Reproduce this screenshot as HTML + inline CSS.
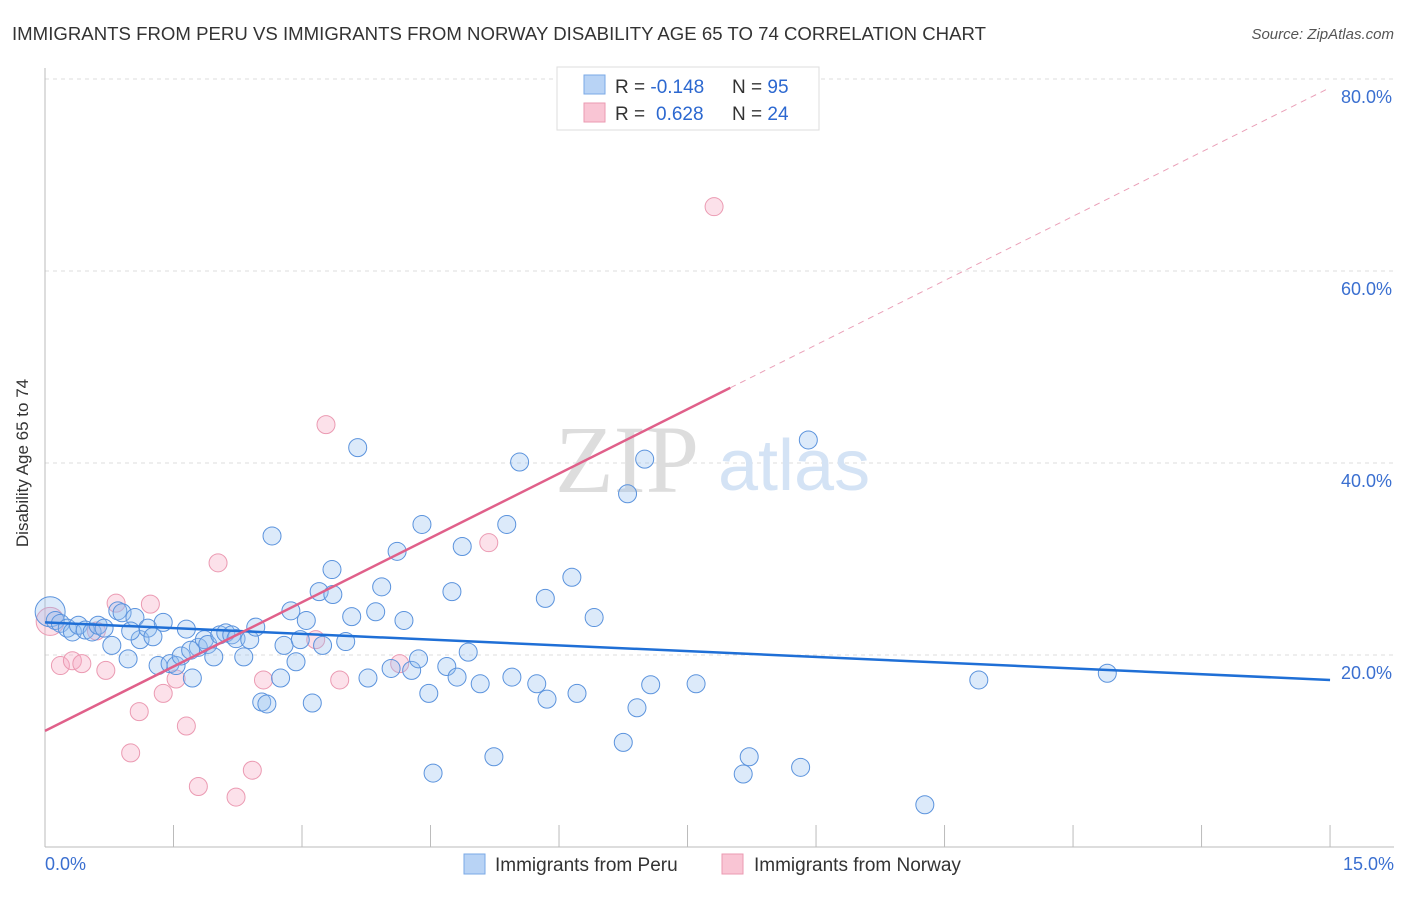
<!DOCTYPE html>
<html><head><meta charset="utf-8"><style>
body{margin:0;background:#fff;font-family:"Liberation Sans",sans-serif}
</style></head><body>
<svg width="1406" height="892" xmlns="http://www.w3.org/2000/svg" font-family="Liberation Sans, sans-serif">
<text x="12" y="40" font-size="18.6" fill="#333" textLength="974">IMMIGRANTS FROM PERU VS IMMIGRANTS FROM NORWAY DISABILITY AGE 65 TO 74 CORRELATION CHART</text>
<text x="1394" y="39" font-size="15" fill="#555" text-anchor="end" font-style="italic">Source: ZipAtlas.com</text>
<g id="grid"></g>
<text x="555" y="492" font-size="96" fill="#ddd" font-family="Liberation Serif, serif">ZIP</text>
<text x="718" y="490" font-size="72" fill="#d4e3f5">atlas</text>
<line x1="45" y1="68" x2="45" y2="847" stroke="#bbb"/>
<line x1="45" y1="847" x2="1394" y2="847" stroke="#bbb"/>
<g id="ticks"></g>
<text x="20" y="455" font-size="17" fill="#333" text-anchor="middle" transform="rotate(-90 28 455)">Disability Age 65 to 74</text>
<text x="45" y="870" font-size="18" fill="#3a6fd0">0.0%</text>
<text x="1394" y="870" font-size="18" fill="#3a6fd0" text-anchor="end">15.0%</text>
<g id="pts"></g>
<g id="lines"></g>
<g>
<rect x="557" y="67" width="262" height="63" fill="#fff" stroke="#ddd"/>
<rect x="584" y="75" width="21" height="19" fill="#b8d3f5" stroke="#7aa8e6"/>
<rect x="584" y="103" width="21" height="19" fill="#f9c5d4" stroke="#eb9ab2"/>
<text x="615" y="93" font-size="19" fill="#333">R = <tspan fill="#2c68d0">-0.148</tspan><tspan x="732">N = </tspan><tspan fill="#2c68d0">95</tspan></text>
<text x="615" y="120" font-size="19" fill="#333">R = <tspan x="656" fill="#2c68d0">0.628</tspan><tspan x="732">N = </tspan><tspan fill="#2c68d0">24</tspan></text>
</g>
<g>
<rect x="464" y="854" width="21" height="20" fill="#b8d3f5" stroke="#7aa8e6"/>
<text x="495" y="871" font-size="19" fill="#333">Immigrants from Peru</text>
<rect x="722" y="854" width="21" height="20" fill="#f9c5d4" stroke="#eb9ab2"/>
<text x="754" y="871" font-size="19" fill="#333">Immigrants from Norway</text>
</g>
</svg>
<script>
const yTicks=[20,40,60,80];
const xTicks=[0,1.5,3,4.5,6,7.5,9,10.5,12,13.5,15];
const peruX=[0.06,0.12,0.18,0.26,0.32,0.39,0.47,0.55,0.62,0.69,0.78,0.85,0.9,0.97,1.05,1.11,1.2,1.26,1.32,1.38,1.46,1.53,1.59,1.65,1.72,1.79,1.86,1.90,1.97,2.04,2.11,2.18,2.23,2.32,2.39,2.46,2.53,2.59,2.65,2.75,2.79,2.87,2.93,2.98,3.05,3.12,3.2,3.24,3.35,3.36,3.51,3.58,3.65,3.77,3.86,3.93,4.04,4.11,4.19,4.28,4.36,4.4,4.48,4.53,4.69,4.75,4.81,4.87,4.94,5.08,5.24,5.39,5.45,5.54,5.74,5.84,5.86,6.15,6.21,6.41,6.75,6.8,6.91,7.0,7.07,7.6,8.15,8.22,8.82,8.91,10.27,10.9,12.4,1.0,1.7];
const peruY=[24.5,23.6,23.3,22.8,22.4,23.1,22.6,22.4,23.1,22.8,21.0,24.6,24.4,19.6,23.9,21.6,22.8,21.9,18.9,23.4,19.1,18.9,19.9,22.7,17.6,20.8,21.6,21.1,19.8,22.1,22.3,22.1,21.7,19.8,21.6,22.9,15.1,14.9,32.4,17.6,21.0,24.6,19.3,21.6,23.6,15.0,26.6,21.0,28.9,26.3,21.4,24.0,41.6,17.6,24.5,27.1,18.6,30.8,23.6,18.4,19.6,33.6,16.0,7.7,18.8,26.6,17.7,31.3,20.3,17.0,9.4,33.6,17.7,40.1,17.0,25.9,15.4,28.1,16.0,23.9,10.9,36.8,14.5,40.4,16.9,17.0,7.6,9.4,8.3,42.4,4.4,17.4,18.1,22.5,20.5];
const norwayX=[0.06,0.18,0.32,0.43,0.71,0.83,1.1,1.0,1.23,1.38,1.53,1.65,1.79,2.02,2.23,2.42,2.55,3.16,3.28,3.44,4.14,5.18,7.81,0.6];
const norwayY=[23.5,18.9,19.4,19.1,18.4,25.4,14.1,9.8,25.3,16.0,17.5,12.6,6.3,29.6,5.2,8.0,17.4,21.6,44.0,17.4,19.1,31.7,66.7,22.5];
const peruLine=[23.4,17.4];
const norwayLine=[12.1,79.1];
const norwaySolidEnd=8.0;
const NS='http://www.w3.org/2000/svg';
const X=v=>45+v*85.67, Y=v=>847-v*9.6;
function mk(t,a,p){const e=document.createElementNS(NS,t);for(const k in a)e.setAttribute(k,a[k]);p.appendChild(e);return e;}
const grid=document.getElementById('grid');
yTicks.forEach(v=>{
 const l=mk('line',{x1:45,x2:1394,y1:Y(v),y2:Y(v),stroke:'#ddd','stroke-dasharray':'4,4'},grid);
 
 
 const t=mk('text',{x:1392,y:Y(v)+24,'font-size':18,fill:'#3a6fd0','text-anchor':'end'},grid);
 t.textContent=v.toFixed(1)+'%';
 
 
});
const tk=document.getElementById('ticks');
xTicks.forEach(v=>{
 const l=mk('line',{x1:X(v),x2:X(v),y1:825,y2:847,stroke:'#bbb'},tk);
 
 
});
const pts=document.getElementById('pts');
norwayX.forEach((x,i)=>{
 const c=mk('circle',{cx:X(x),cy:Y(norwayY[i]),r:i==0?14:9,fill:'rgba(245,170,195,0.35)',stroke:'#eb9ab2','stroke-width':1},pts);
 
 
});
peruX.forEach((x,i)=>{
 const c=mk('circle',{cx:X(x),cy:Y(peruY[i]),r:i==0?15:9,fill:'rgba(150,190,240,0.33)',stroke:'#5b93dd','stroke-width':1},pts);
 
 
});
const ln=document.getElementById('lines');
let a=mk('line',{x1:X(0),y1:Y(peruLine[0]),x2:X(15),y2:Y(peruLine[1]),stroke:'#1f6fd6','stroke-width':2.5},ln);


const ny=x=>norwayLine[0]+(norwayLine[1]-norwayLine[0])*x/15;
let b=mk('line',{x1:X(0),y1:Y(ny(0)),x2:X(norwaySolidEnd),y2:Y(ny(norwaySolidEnd)),stroke:'#e0608a','stroke-width':2.5},ln);


let d=mk('line',{x1:X(norwaySolidEnd),y1:Y(ny(norwaySolidEnd)),x2:X(15),y2:Y(ny(15)),stroke:'#eaa0b8','stroke-width':1,'stroke-dasharray':'6,5'},ln);


</script>
</body></html>
